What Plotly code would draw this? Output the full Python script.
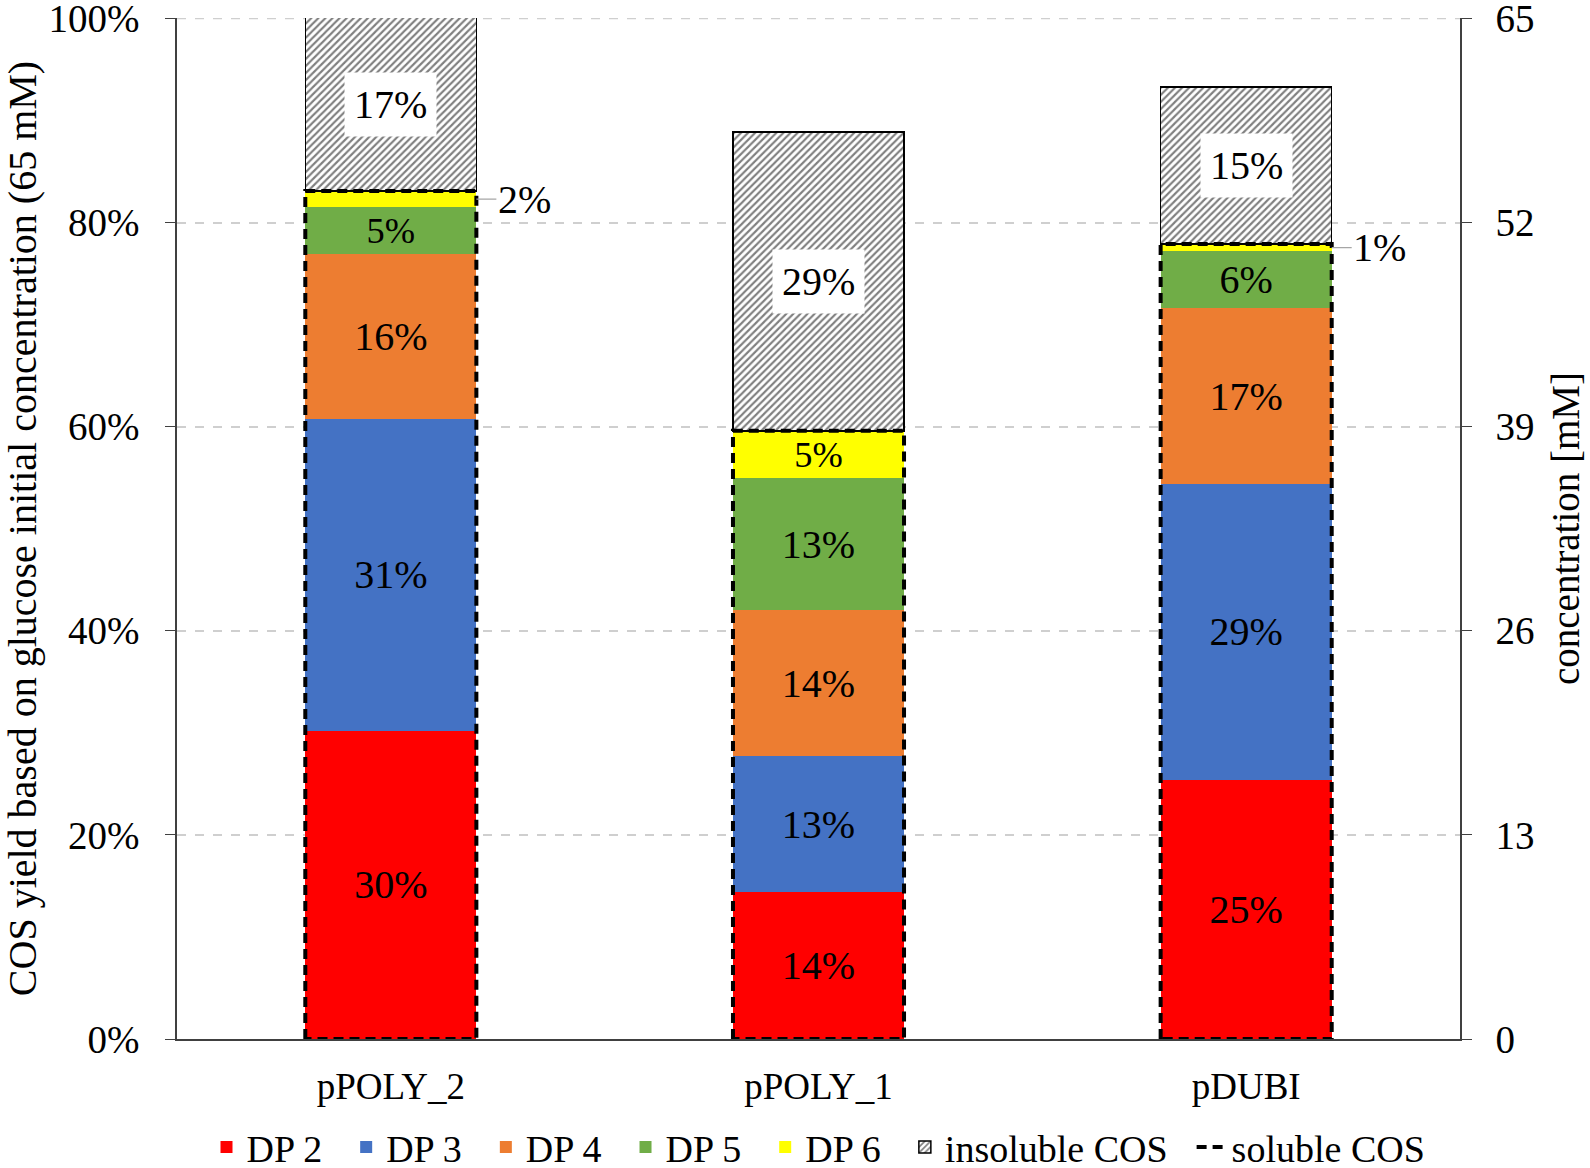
import plotly.graph_objects as go

categories = ["pPOLY_2", "pPOLY_1", "pDUBI"]
dp2 = [30.2, 14.4, 25.4]
dp3 = [30.6, 13.3, 29.0]
dp4 = [16.1, 14.3, 17.2]
dp5 = [4.6, 13.0, 5.6]
dp6 = [1.6, 4.6, 0.7]
insoluble = [17.0, 29.3, 15.4]

left_ticks = [0, 20, 40, 60, 80, 100]
left_tick_labels = ["0%", "20%", "40%", "60%", "80%", "100%"]
right_ticks = [0, 13, 26, 39, 52, 65]

series = [("DP 2", dp2, "#ff0000"), ("DP 3", dp3, "#4472c4"), ("DP 4", dp4, "#ed7d31"),
          ("DP 5", dp5, "#70ad47"), ("DP 6", dp6, "#ffff00")]

FONT = "Liberation Serif"
FS = 40
SP = "\u2002"
xs = list(range(len(categories)))
BW = 0.4
YMAX = 100.05

fig = go.Figure()
for name, vals, col in series:
    txt = [f"{round(v)}%" if v >= 3 else "" for v in vals]
    fig.add_trace(go.Bar(x=xs, y=vals, name=name + SP, marker=dict(color=col, line=dict(width=0)),
                         width=BW, text=txt, textposition="inside", insidetextanchor="middle",
                         textangle=0, textfont=dict(family=FONT, size=FS, color="black"),
                         cliponaxis=False))

fig.add_trace(go.Bar(x=xs, y=insoluble, name="insoluble COS" + SP, width=BW,
                     marker=dict(color="white", line=dict(color="black", width=1.5),
                                 pattern=dict(shape="/", fgcolor="black", bgcolor="white",
                                              size=5, solidity=0.42))))

# soluble dashed outline
soluble = [a + b + c + d + e for a, b, c, d, e in zip(dp2, dp3, dp4, dp5, dp6)]
ox, oy = [], []
for i, s in zip(xs, soluble):
    ox += [i - BW / 2, i - BW / 2, i + BW / 2, i + BW / 2, i - BW / 2, None]
    oy += [0, s, s, 0, 0, None]
fig.add_trace(go.Scatter(x=ox, y=oy, mode="lines", name="soluble COS",
                         line=dict(color="black", width=4, dash="10px,6px"),
                         hoverinfo="skip"))

# concentration axis trace (invisible)
total = [s + ins for s, ins in zip(soluble, insoluble)]
fig.add_trace(go.Scatter(x=xs, y=[t * 0.65 for t in total], yaxis="y2", mode="markers",
                         marker=dict(opacity=0), showlegend=False, hoverinfo="skip"))

annotations = []
for i, s, ins in zip(xs, soluble, insoluble):
    annotations.append(dict(x=i, y=s + ins / 2, text=f"{round(ins)}%", showarrow=False,
                            bgcolor="white", borderpad=9,
                            font=dict(family=FONT, size=FS, color="black")))
for i, v, s in zip(xs, dp6, soluble):
    if v < 3:
        annotations.append(dict(x=i + BW / 2, y=s - v / 2, text=f"{round(v)}%", showarrow=True,
                                arrowhead=0, arrowcolor="#a6a6a6", arrowwidth=1.2,
                                ax=48, ay=0, xanchor="center",
                                font=dict(family=FONT, size=FS, color="black")))

GRIDCOL = "#cfcfcf"
# gridline at the top tick (plotly omits the gridline at the axis end)
fig.add_shape(type="line", xref="paper", x0=0, x1=1, yref="y", y0=left_ticks[-1], y1=left_ticks[-1],
              line=dict(color=GRIDCOL, width=1.5, dash="dash"), layer="below")

fig.update_layout(
    width=1590, height=1168,
    margin=dict(l=177, r=130, t=18, b=129, autoexpand=False),
    paper_bgcolor="white", plot_bgcolor="white",
    barmode="stack",
    font=dict(family=FONT, size=FS, color="black"),
    annotations=annotations,
    xaxis=dict(tickvals=xs, ticktext=categories, range=[-0.5, 2.5], showgrid=False,
               zeroline=False, showline=True, linecolor="#404040", linewidth=1.5,
               ticks="", ticklabelstandoff=14, automargin=False,
               tickfont=dict(family=FONT, size=37)),
    yaxis=dict(range=[0, YMAX], tickvals=left_ticks, ticktext=left_tick_labels,
               showgrid=True, gridcolor=GRIDCOL, griddash="dash", gridwidth=1.5,
               zeroline=False, showline=True,
               linecolor="#404040", linewidth=1.5, ticks="outside", ticklen=10,
               tickcolor="#404040", tickfont=dict(family=FONT, size=39),
               ticklabelstandoff=18, automargin=False, ticklabeloverflow="allow",
               title=dict(text="COS yield based on glucose initial concentration (65 mM)",
                          font=dict(family=FONT, size=40), standoff=16)),
    yaxis2=dict(range=[0, YMAX * 0.65], tickvals=right_ticks, overlaying="y", side="right",
                showgrid=False, zeroline=False, showline=True, linecolor="#404040", linewidth=1.5,
                ticks="outside", ticklen=10, tickcolor="#404040",
                tickfont=dict(family=FONT, size=39), ticklabelstandoff=16,
                automargin=False, ticklabeloverflow="allow",
                title=dict(text="concentration [mM]", font=dict(family=FONT, size=39), standoff=18)),
    legend=dict(orientation="h", x=0.5, xanchor="center", y=-0.106, yanchor="middle",
                font=dict(family=FONT, size=38), traceorder="normal", itemwidth=30),
    showlegend=True,
)

fig.write_html("out.html", config={"displayModeBar": False},
               post_script="document.body.style.margin='0';")
